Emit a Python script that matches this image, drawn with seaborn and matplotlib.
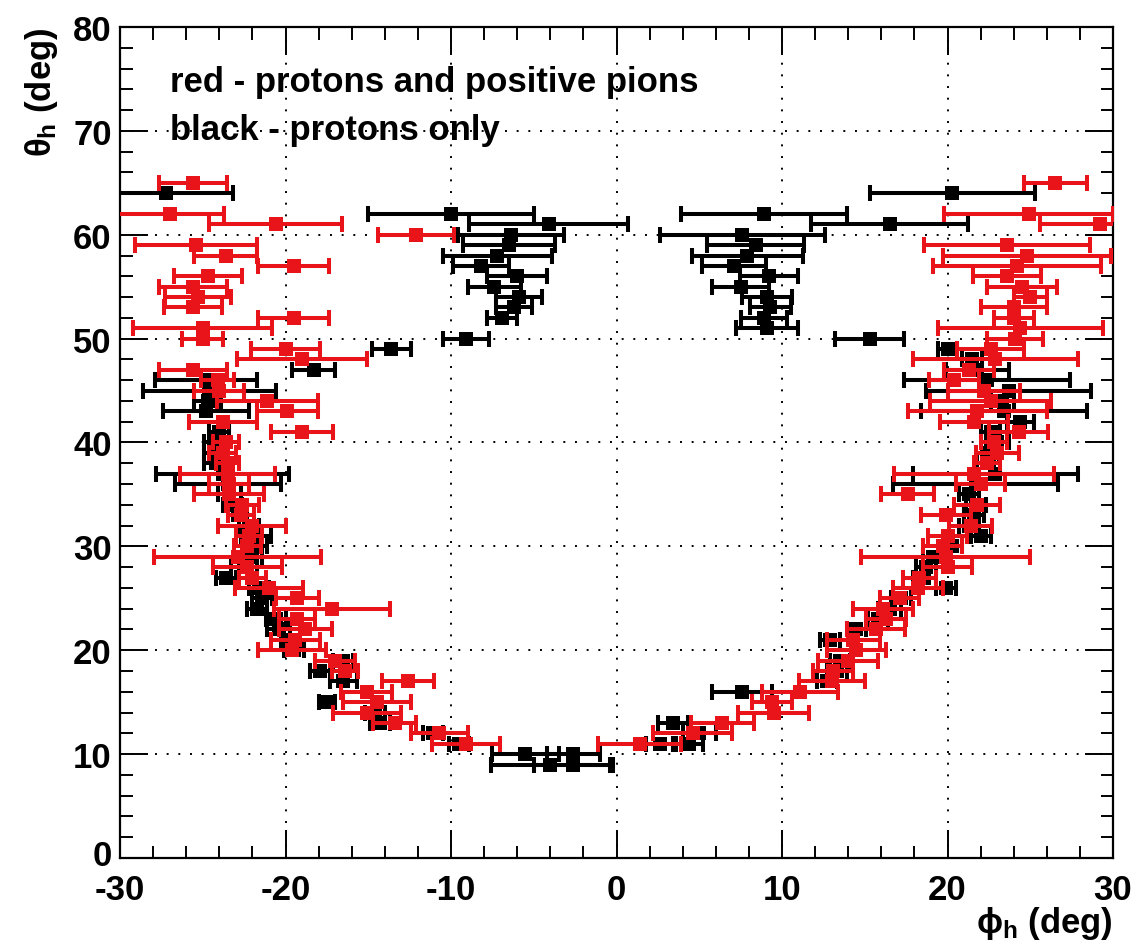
import matplotlib
matplotlib.use("Agg")
import matplotlib.pyplot as plt
import matplotlib.transforms as mtransforms
import seaborn as sns
import pandas as pd
from matplotlib.ticker import MultipleLocator

# ---------------- data ----------------
black_theta = [64, 62, 61, 60, 59, 58, 57, 56, 55, 54, 53, 52, 50,
               64, 62, 61, 60, 59, 58, 57, 56, 55, 54, 53, 52, 51, 50,
               49, 47, 46, 45, 44, 43, 41, 40, 39, 38, 37, 36, 35, 34, 33,
               32, 31, 30, 29, 28, 27, 26, 25, 24, 23, 22, 21, 20, 19, 18,
               17, 15, 14, 13, 12, 11, 10, 10, 9, 9,
               16, 13, 12, 11, 11, 17, 18, 19, 21, 22, 23, 24, 25, 26, 27,
               28, 29, 30, 31, 32, 33, 34, 35, 36, 37, 38, 39, 40, 41, 42,
               43, 44, 45, 46, 47, 48, 49]
black_phi = [-27.2, -10.0, -4.1, -6.4, -6.5, -7.2, -8.2, -6.0, -7.4, -5.9, -6.2, -6.9, -9.1,
             20.3, 8.9, 16.5, 7.6, 8.4, 7.9, 7.1, 9.2, 7.5, 9.1, 9.3, 8.9, 9.1, 15.3,
             -13.6, -18.3, -24.8, -24.6, -24.7, -24.8, -24.0, -24.3, -24.3, -24.2, -23.8,
             -23.5, -23.4, -23.2, -22.9,
             -22.2, -21.8, -21.7, -22.0, -22.5, -23.6, -21.6, -21.4, -21.7, -20.6, -20.4,
             -19.7, -19.5, -16.5, -17.9,
             -16.5, -17.5, -14.6, -14.3, -11.1, -9.5, -5.5, -2.6, -4.0, -2.6,
             7.6, 3.4, 5.0, 2.6, 4.4, 12.7, 13.3, 13.5, 12.9, 14.5, 15.8, 16.5, 17.2, 19.9,
             18.6, 18.7, 19.1, 20.3, 22.0, 21.3, 21.6, 21.7, 21.3, 21.7, 22.9, 22.5, 22.4,
             23.0, 22.6, 24.4, 23.4, 23.3, 23.7, 22.4, 21.8, 21.5, 20.0]
black_xerr = [4.0, 5.0, 4.8, 3.2, 2.8, 3.3, 1.7, 1.8, 1.6, 1.4, 1.1, 0.9, 1.4,
              5.0, 5.0, 4.75, 5.0, 2.95, 3.35, 1.95, 1.75, 1.7, 1.5, 1.25, 1.4, 1.85, 2.1,
              1.2, 1.3, 3.1, 4.0, 0.8, 2.6, 0.6, 0.6, 0.6, 0.7, 4.0, 3.2, 0.7, 0.6, 0.6,
              0.6, 0.9, 0.6, 0.6, 0.8, 0.6, 0.6, 0.6, 0.6, 0.6, 0.7, 0.6, 0.6, 0.6, 0.6,
              0.8, 0.5, 0.6, 0.6, 0.6, 0.6, 2.0, 1.6, 3.6, 2.4,
              1.8, 0.9, 1.0, 0.8, 0.8, 0.6, 0.6, 0.6, 0.6, 0.6, 0.6, 0.7, 0.6, 0.6, 0.7,
              0.6, 0.6, 0.6, 0.6, 0.6, 0.6, 0.6, 0.6, 5.0, 5.0, 0.7, 0.7, 0.7, 0.6, 0.8,
              5.0, 0.7, 5.0, 5.0, 1.9, 0.6, 0.6]

red_theta = [65, 62, 61, 60, 59, 58, 57, 56, 55, 54, 53, 52, 51, 50, 49, 48, 47, 46,
             45, 44, 43, 42, 41, 40, 39, 38, 37, 36, 35, 34, 33, 32, 31, 30, 29, 28,
             27, 26, 25, 24, 23, 22, 21, 20, 19, 18, 17, 16, 15, 14, 13, 12, 11,
             65, 62, 61, 59, 58, 57, 56, 55, 54, 53, 52, 51, 50, 49, 48, 47, 46,
             45, 44, 43, 42, 41, 40, 39, 38, 37, 36, 35, 34, 33, 32, 31, 30, 29, 28,
             27, 26, 25, 24, 23, 22, 21, 20, 19, 18, 17, 16, 15, 14, 13, 12, 11]
red_phi = [-25.6, -27.0, -20.6, -12.1, -25.4, -23.6, -19.5, -24.7, -25.6, -25.3, -25.6,
           -19.5, -25.0, -25.0, -20.0, -19.0, -25.6, -24.1,
           -24.0, -21.1, -19.9, -23.8, -19.0, -23.6, -23.8, -23.5, -23.5, -23.4, -23.4,
           -22.6, -22.7, -22.0, -22.2, -22.3, -22.9, -22.3,
           -22.0, -21.0, -19.3, -17.2, -19.3, -18.8, -19.4, -19.6, -17.0, -16.4, -12.6,
           -15.1, -14.45, -15.1, -13.4, -10.7, -9.1,
           26.5, 24.9, 29.2, 23.6, 24.8, 24.2, 23.6, 24.5, 25.0, 24.0, 24.0, 24.4, 24.1,
           22.6, 22.9, 21.3, 20.4,
           22.2, 22.6, 21.8, 21.6, 24.3, 22.8, 23.0, 22.4, 21.6, 22.0, 17.6, 21.8, 19.9,
           21.4, 20.0, 19.7, 19.9, 20.0,
           18.3, 18.2, 17.1, 16.1, 16.3, 15.7, 14.3, 14.5, 14.0, 13.1, 13.0, 11.1, 9.4,
           9.5, 6.4, 4.6, 1.4]
red_xerr = [2.05, 3.3, 4.0, 2.3, 3.7, 1.9, 2.15, 2.05, 2.05, 2.0, 1.75, 2.15, 4.2, 1.25,
            2.1, 3.95, 2.05, 1.0,
            1.5, 3.05, 1.85, 2.05, 1.9, 0.8, 0.8, 0.7, 2.85, 1.2, 2.1, 1.0, 0.8, 2.05,
            0.8, 0.8, 5.05, 2.1,
            0.8, 2.05, 1.3, 3.5, 1.1, 1.6, 1.5, 2.05, 1.2, 0.8, 1.55, 1.55, 2.05, 2.05,
            1.3, 1.7, 2.05,
            1.9, 5.1, 3.6, 5.0, 5.05, 5.05, 2.05, 2.1, 1.0, 2.0, 1.2, 5.0, 1.7, 2.05,
            5.0, 1.5, 1.5,
            2.2, 3.65, 4.2, 2.05, 1.8, 0.8, 1.3, 0.8, 4.85, 1.5, 1.6, 1.4, 1.5, 1.3,
            1.2, 1.2, 5.1, 1.5,
            1.0, 1.5, 1.2, 1.8, 1.2, 1.75, 1.6, 1.8, 1.8, 1.2, 2.0, 2.3, 1.2, 2.15,
            1.9, 2.4, 2.5]

x_ticks = [-30, -20, -10, 0, 10, 20, 30]
y_ticks = [0, 10, 20, 30, 40, 50, 60, 70, 80]
note_lines = ["red - protons and positive pions", "black - protons only"]
x_label = r"$\phi_{h}$ (deg)"
y_label = r"$\theta_{h}$ (deg)"

# ---------------- style ----------------
sns.set_theme(style="ticks")
plt.rcParams["font.family"] = ["Liberation Sans", "DejaVu Sans"]
plt.rcParams["font.weight"] = "bold"
plt.rcParams["text.color"] = "black"
plt.rcParams["axes.labelcolor"] = "black"
plt.rcParams["xtick.color"] = "black"
plt.rcParams["ytick.color"] = "black"
plt.rcParams["mathtext.fontset"] = "custom"
plt.rcParams["mathtext.rm"] = "Liberation Sans:bold"
plt.rcParams["mathtext.it"] = "Liberation Sans:bold"
plt.rcParams["mathtext.bf"] = "Liberation Sans:bold"

RED = "#e8141a"
W, H = 1139, 953
fig = plt.figure(figsize=(W / 100, H / 100), dpi=100)
fig.patch.set_facecolor("white")
ax = fig.add_axes([120 / W, 1 - 859 / H, (1113 - 120) / W, (859 - 28) / H])
ax.set_facecolor("white")

black_df = pd.DataFrame({"phi": black_phi, "theta": black_theta, "err": black_xerr})
red_df = pd.DataFrame({"phi": red_phi, "theta": red_theta, "err": red_xerr})

for df, col, z in [(black_df, "black", 2), (red_df, RED, 4)]:
    ax.errorbar(df["phi"], df["theta"], xerr=df["err"], fmt="none", ecolor=col,
                elinewidth=2.9, capsize=5.5, capthick=2.9, zorder=z)
    sns.scatterplot(data=df, x="phi", y="theta", color=col, marker="s", s=105,
                    linewidth=0, ax=ax, zorder=z + 0.5, legend=False)

ax.set_xlim(-30, 30)
ax.set_ylim(0, 80)
ax.set_xticks(x_ticks)
ax.set_yticks(y_ticks)
ax.set_xticklabels([str(v) for v in x_ticks])
ax.set_yticklabels([str(v) for v in y_ticks])
ax.xaxis.set_minor_locator(MultipleLocator(2))
ax.yaxis.set_minor_locator(MultipleLocator(2))
ax.tick_params(which="both", direction="in", top=True, right=True, color="black",
               labelcolor="black")
ax.tick_params(which="major", length=20, width=1.4, labelsize=25)
ax.tick_params(axis="x", which="major", pad=11)
ax.tick_params(axis="y", which="major", pad=6)
ax.tick_params(which="minor", length=9, width=1.4)
for lab in ax.get_xticklabels() + ax.get_yticklabels():
    lab.set_fontweight("bold")
# lift the "0" label of the y axis a little so it just clears "-30"
zero_lab = ax.get_yticklabels()[0]
zero_lab.set_transform(zero_lab.get_transform() +
                       mtransforms.ScaledTranslation(0, 4 / 72, fig.dpi_scale_trans))
for sp in ax.spines.values():
    sp.set_visible(True)
    sp.set_linewidth(1.6)
    sp.set_color("black")
ax.grid(True, which="major", color="black", linestyle=(0, (1, 5)), linewidth=1.4)
ax.set_xlabel("")
ax.set_ylabel("")

ax.text(-27.0, 73.8, note_lines[0], fontsize=25, fontweight="bold", va="baseline",
        ha="left", zorder=10, color="black")
ax.text(-27.0, 69.2, note_lines[1], fontsize=25, fontweight="bold", va="baseline",
        ha="left", zorder=10, color="black")

fig.text(42 / W, 1 - 28 / H, y_label, rotation=90, ha="center", va="top",
         fontsize=25, fontweight="bold", color="black")
fig.text(1113 / W, 1 - 924 / H, x_label, ha="right", va="center",
         fontsize=25, fontweight="bold", color="black")

fig.savefig("out.png", dpi=100, facecolor="white")
